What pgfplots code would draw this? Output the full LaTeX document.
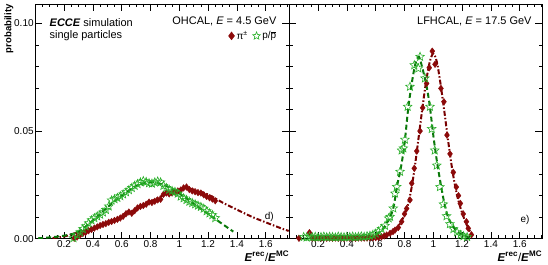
\documentclass[border=0pt]{standalone}
\usepackage{pgfplots}
\pgfplotsset{compat=1.18}
\usepackage{fontspec}
\setmainfont{Liberation Sans}
\definecolor{pired}{RGB}{140,10,10}
\definecolor{pifit}{RGB}{120,0,0}
\definecolor{pgreen}{RGB}{40,175,40}
\definecolor{pfit}{RGB}{10,120,10}
\pgfdeclareplotmark{ostar}{%
 \pgfpathmoveto{\pgfpointpolar{90}{\pgfplotmarksize}}%
 \pgfpathlineto{\pgfpointpolar{126}{0.45\pgfplotmarksize}}%
 \pgfpathlineto{\pgfpointpolar{162}{\pgfplotmarksize}}%
 \pgfpathlineto{\pgfpointpolar{198}{0.45\pgfplotmarksize}}%
 \pgfpathlineto{\pgfpointpolar{234}{\pgfplotmarksize}}%
 \pgfpathlineto{\pgfpointpolar{270}{0.45\pgfplotmarksize}}%
 \pgfpathlineto{\pgfpointpolar{306}{\pgfplotmarksize}}%
 \pgfpathlineto{\pgfpointpolar{342}{0.45\pgfplotmarksize}}%
 \pgfpathlineto{\pgfpointpolar{18}{\pgfplotmarksize}}%
 \pgfpathlineto{\pgfpointpolar{54}{0.45\pgfplotmarksize}}%
 \pgfpathclose
 \pgfusepathqstroke}
\pgfplotsset{
 panel/.style={
  scale only axis, height=234.7bp,
  xmin=0, ymin=0, ymax=0.109,
  xtick={0.2,0.4,0.6,0.8,1,1.2,1.4,1.6},
  minor xtick={0.05,0.1,0.15,0.25,0.3,0.35,0.45,0.5,0.55,0.65,0.7,0.75,0.85,0.9,0.95,1.05,1.1,1.15,1.25,1.3,1.35,1.45,1.5,1.55,1.65,1.7,1.75},
  ytick={0,0.05,0.1},
  minor ytick={0.01,0.02,0.03,0.04,0.06,0.07,0.08,0.09},
  major tick length=7bp, minor tick length=3.5bp,
  xtick pos=both, ytick pos=both, tick align=inside,
  tick style={black, line width=0.6pt},
  axis line style={line width=0.8pt},
  /pgf/number format/assume math mode=true,
  ticklabel style={font=\fontsize{10}{11}\selectfont},
  xticklabel style={inner ysep=2bp},
  yticklabel style={/pgf/number format/fixed, /pgf/number format/fixed zerofill, /pgf/number format/precision=2, inner xsep=1.5bp},
  scaled y ticks=false,
  xlabel style={at={(axis description cs:1,0)}, anchor=north east, inner sep=0pt, yshift=-12.5bp, font=\fontsize{11.5}{12}\selectfont},
  xlabel={\textbf{\textit{E}}\textsuperscript{\textbf{rec}}/\textbf{\textit{E}}\textsuperscript{\textbf{MC}}},
  pimark/.style={only marks, mark=diamond*, mark size=3.3bp, color=pired, mark options={fill=pired, draw=pired}},
  prmark/.style={only marks, mark=ostar, mark size=4.5bp, color=pgreen, mark options={draw=pgreen, line width=0.6pt}},
  pifitline/.style={no marks, pifit, line width=2pt, dash pattern=on 5bp off 2bp on 1.5bp off 2bp, smooth, tension=0.5},
  prfitline/.style={no marks, pfit, line width=2pt, dash pattern=on 5bp off 3bp, smooth, tension=0.5},
 }
}
\begin{document}
\begin{tikzpicture}
\path[use as bounding box] (0,0) rectangle (548bp,265bp);
\node[rotate=90, anchor=east, inner sep=0pt, font=\bfseries\fontsize{9.6}{10}\selectfont] at (9bp,261bp) {probability};
% ---------------- left panel ----------------
\begin{axis}[panel, at={(35.3bp,26.3bp)}, anchor=south west, width=254bp, xmax=1.764,
  legend columns=2,
  legend style={draw=none, fill=none, at={(0.957,0.864)}, anchor=east, font=\fontsize{10}{11}\selectfont, inner sep=0pt,
   /tikz/every odd column/.append style={column sep=0bp},
   /tikz/every even column/.append style={column sep=3bp}},
  legend image post style={mark size=4bp},
  legend cell align=left]
\addplot[pimark] coordinates {
(0.27,0.0002) (0.29,0.0008) (0.31,0.0016) (0.33,0.0024) (0.35,0.0030) (0.37,0.0037) (0.39,0.0043)
(0.41,0.0049) (0.43,0.0055) (0.45,0.0061) (0.47,0.0066) (0.49,0.0070) (0.51,0.0076) (0.53,0.0080)
(0.55,0.0085) (0.57,0.0090) (0.59,0.0096) (0.61,0.0104) (0.63,0.0116) (0.65,0.0124) (0.67,0.0118)
(0.69,0.0130) (0.71,0.0143) (0.73,0.0150) (0.75,0.0154) (0.77,0.0160) (0.79,0.0170) (0.81,0.0168)
(0.83,0.0174) (0.85,0.0180) (0.87,0.0183) (0.89,0.0206) (0.91,0.0212) (0.93,0.0208) (0.95,0.0212)
(0.97,0.0216) (0.99,0.0222) (1.01,0.0226) (1.03,0.0236) (1.05,0.0240) (1.07,0.0228) (1.09,0.0222)
(1.11,0.0218) (1.13,0.0214) (1.15,0.0212) (1.17,0.0204) (1.19,0.0196) (1.21,0.0190) (1.23,0.0184)
(1.25,0.0176)};
\addlegendentry{π\textsuperscript{±}}
\addplot[prmark] coordinates {
(0.265,0.0003) (0.29,0.0018) (0.31,0.0030) (0.33,0.0045) (0.35,0.0058) (0.37,0.0072) (0.39,0.0086)
(0.41,0.0096) (0.43,0.0104) (0.45,0.0112) (0.47,0.0122) (0.49,0.0134) (0.51,0.0150) (0.53,0.0178)
(0.55,0.0184) (0.57,0.0190) (0.59,0.0198) (0.61,0.0206) (0.63,0.0216) (0.65,0.0226) (0.67,0.0236)
(0.69,0.0246) (0.71,0.0254) (0.73,0.0262) (0.75,0.0268) (0.77,0.0264) (0.79,0.0258) (0.81,0.0256)
(0.83,0.0262) (0.85,0.0266) (0.87,0.0262) (0.89,0.0246) (0.91,0.0236) (0.93,0.0228) (0.95,0.0222)
(0.97,0.0218) (0.99,0.0210) (1.01,0.0196) (1.03,0.0188) (1.05,0.0180) (1.07,0.0172) (1.09,0.0166)
(1.11,0.0160) (1.13,0.0154) (1.15,0.0148) (1.17,0.0140) (1.19,0.0128) (1.21,0.0118) (1.23,0.0110)
(1.25,0.0096)};
\addlegendentry{p/$\overline{\mbox{p}}$}
\addplot[pifitline, forget plot] coordinates {
(0.12,0.0003) (0.2,0.0010) (0.25,0.0020) (0.3,0.0030) (0.4,0.0048) (0.5,0.0072) (0.6,0.0102)
(0.7,0.0137) (0.8,0.0172) (0.9,0.0205) (1.0,0.0228) (1.05,0.0233) (1.1,0.0228) (1.2,0.0205)
(1.3,0.0168) (1.4,0.0135) (1.5,0.0103) (1.6,0.0076) (1.7,0.0050) (1.76,0.0036)};
\addplot[prfitline, forget plot] coordinates {
(0.02,0.0002) (0.1,0.0006) (0.2,0.0014) (0.3,0.0032) (0.4,0.0085) (0.5,0.0145) (0.6,0.0200)
(0.7,0.0245) (0.8,0.0262) (0.9,0.0248) (1.0,0.0210) (1.1,0.0163) (1.2,0.0115) (1.3,0.0068)
(1.375,0.0033)};
\node[anchor=west, inner sep=0pt, font=\fontsize{11}{12}\selectfont] at (rel axis cs:0.056,0.919) {\textbf{\textit{ECCE}} simulation};
\node[anchor=west, inner sep=0pt, font=\fontsize{11}{12}\selectfont] at (rel axis cs:0.056,0.864) {single particles};
\node[anchor=east, inner sep=0pt, font=\fontsize{11}{12}\selectfont] at (rel axis cs:0.950,0.928) {OHCAL, \textit{E} = 4.5 GeV};
\node[inner sep=0pt, font=\fontsize{10}{11}\selectfont] at (rel axis cs:0.921,0.091) {d)};
\end{axis}
% ---------------- right panel ----------------
\begin{axis}[panel, at={(289.3bp,26.3bp)}, anchor=south west, width=253bp, xmax=1.757, yticklabels={}]
\addplot[pimark] coordinates {
(0.067,0.0002) (0.14,0.0028) (0.16,0.0003) (0.18,0.0002) (0.20,0.0003) (0.22,0.0002) (0.24,0.0003)
(0.26,0.0002) (0.28,0.0003) (0.30,0.0002) (0.32,0.0003) (0.34,0.0002) (0.36,0.0003) (0.38,0.0002)
(0.40,0.0003) (0.42,0.0002) (0.44,0.0003) (0.46,0.0002) (0.48,0.0003) (0.50,0.0003) (0.52,0.0003)
(0.54,0.0003) (0.56,0.0004) (0.58,0.0004) (0.60,0.0005) (0.62,0.0006) (0.64,0.0009) (0.66,0.0013)
(0.676,0.0017) (0.70,0.0025) (0.72,0.0033) (0.734,0.0040) (0.757,0.0052) (0.78,0.0079) (0.80,0.0115)
(0.815,0.0140) (0.838,0.0180) (0.85,0.0257) (0.868,0.0327) (0.885,0.0407) (0.908,0.0500) (0.926,0.0608)
(0.954,0.0721) (0.972,0.0794) (0.993,0.0871) (1.012,0.0810) (1.053,0.0698) (1.074,0.0636) (1.095,0.0481)
(1.116,0.0394) (1.139,0.0308) (1.16,0.0240) (1.175,0.0200) (1.188,0.0164) (1.208,0.0115) (1.23,0.0079)
(1.243,0.0048) (1.265,0.0018)};
\addplot[prmark] coordinates {
(0.10,0.0008) (0.12,0.0006) (0.14,0.0010) (0.16,0.0007) (0.18,0.0009) (0.20,0.0006) (0.22,0.0008)
(0.24,0.0010) (0.26,0.0007) (0.28,0.0009) (0.30,0.0008) (0.32,0.0006) (0.34,0.0010) (0.36,0.0008)
(0.38,0.0007) (0.40,0.0009) (0.42,0.0008) (0.44,0.0010) (0.46,0.0007) (0.48,0.0009) (0.50,0.0011)
(0.52,0.0009) (0.54,0.0012) (0.56,0.0014) (0.58,0.0018) (0.60,0.0024) (0.62,0.0034) (0.64,0.0046)
(0.665,0.0060) (0.69,0.0095) (0.70,0.0102) (0.722,0.0141) (0.734,0.0210) (0.746,0.0241) (0.769,0.0311)
(0.78,0.0410) (0.792,0.0420) (0.803,0.0460) (0.822,0.0613) (0.838,0.0706) (0.868,0.0806) (0.896,0.0791)
(0.908,0.0845) (0.942,0.0745) (0.977,0.0613) (0.989,0.0510) (1.010,0.0410) (1.024,0.0340) (1.046,0.0240)
(1.070,0.0160) (1.092,0.0105) (1.115,0.0068) (1.140,0.0045) (1.165,0.0030) (1.19,0.0018) (1.21,0.0012)
(1.235,0.0008)};
\addplot[pifitline] coordinates {
(0.6,0.0003) (0.65,0.0010) (0.7,0.0025) (0.75,0.0050) (0.8,0.0110) (0.825,0.0160) (0.85,0.0240)
(0.875,0.0350) (0.9,0.0480) (0.925,0.0610) (0.95,0.0730) (0.975,0.0820) (1.0,0.0860) (1.025,0.0820)
(1.05,0.0720) (1.075,0.0600) (1.1,0.0470) (1.125,0.0350) (1.15,0.0250) (1.175,0.0175) (1.2,0.0120)
(1.225,0.0075) (1.25,0.0040) (1.27,0.0020)};
\addplot[prfitline] coordinates {
(0.55,0.0005) (0.6,0.0018) (0.65,0.0045) (0.7,0.0100) (0.725,0.0150) (0.75,0.0250) (0.775,0.0330)
(0.8,0.0440) (0.825,0.0600) (0.85,0.0720) (0.875,0.0810) (0.9,0.0845) (0.925,0.0790) (0.95,0.0720)
(0.975,0.0620) (1.0,0.0480) (1.025,0.0360) (1.05,0.0260) (1.075,0.0170) (1.1,0.0105) (1.125,0.0070)
(1.15,0.0045) (1.175,0.0030) (1.2,0.0018) (1.25,0.0005)};
\node[anchor=east, inner sep=0pt, font=\fontsize{11}{12}\selectfont] at (rel axis cs:0.958,0.928) {LFHCAL, \textit{E} = 17.5 GeV};
\node[inner sep=0pt, font=\fontsize{10}{11}\selectfont] at (rel axis cs:0.932,0.080) {e)};
\end{axis}
\end{tikzpicture}
\end{document}
